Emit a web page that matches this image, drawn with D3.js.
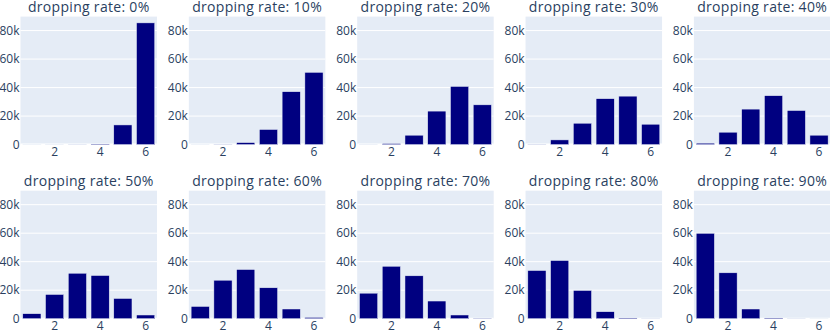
<!DOCTYPE html>
<html>
<head>
<meta charset="utf-8">
<script src="https://cdn.jsdelivr.net/npm/d3@7"></script>
<style>
  html, body { margin: 0; padding: 0; background: #fff; }
  svg { display: block; }
  text { font-family: "Open Sans", verdana, arial, sans-serif; fill: #2a3f5f; }
</style>
</head>
<body>
<svg id="chart" width="830" height="332"></svg>
<script>
// ---- data ----
const categories = [1, 2, 3, 4, 5, 6];
const rates = ["0%", "10%", "20%", "30%", "40%", "50%", "60%", "70%", "80%", "90%"];
const rate0  = [10, 20, 60, 400, 13800, 85400];
const rate10 = [10, 100, 1400, 10600, 37100, 50700];
const rate20 = [20, 700, 6600, 23500, 40800, 27900];
const rate30 = [100, 3300, 15000, 32200, 34000, 14300];
const rate40 = [1000, 8700, 24900, 34300, 23900, 6600];
const rate50 = [3500, 17000, 31900, 30300, 14200, 2600];
const rate60 = [8600, 27000, 34500, 21700, 6800, 900];
const rate70 = [17900, 36800, 30100, 12400, 2600, 200];
const rate80 = [33800, 40800, 19800, 4900, 500, 50];
const rate90 = [59900, 32200, 6800, 500, 50, 10];
const seriesValues = [rate0, rate10, rate20, rate30, rate40, rate50, rate60, rate70, rate80, rate90];
const yTicks = [0, 20000, 40000, 60000, 80000];
const xTicks = [2, 4, 6];
const yMax = 89800;

// ---- layout ----
const svg = d3.select("#chart");
const plotW = 136.5, plotH = 128;
const colX = i => 20.5 + i * 168.35;
const rowY = [16.6, 190.7];

const x = d3.scaleLinear().domain([0.5, 6.5]).range([0, plotW]);
const y = d3.scaleLinear().domain([0, yMax]).range([plotH, 0]);

seriesValues.forEach((vals, k) => {
  const col = k % 5, row = Math.floor(k / 5);
  const g = svg.append("g").attr("transform", `translate(${colX(col)},${rowY[row]})`);

  g.append("rect").attr("width", plotW).attr("height", plotH).attr("fill", "#E5ECF6");

  // gridlines
  g.selectAll("line.grid").data(yTicks.filter(t => t > 0)).enter().append("line")
    .attr("x1", 0).attr("x2", plotW)
    .attr("y1", d => y(d)).attr("y2", d => y(d))
    .attr("stroke", "#fff").attr("stroke-width", 1);
  // zero line
  g.append("line").attr("x1", 0).attr("x2", plotW).attr("y1", y(0)).attr("y2", y(0))
    .attr("stroke", "#fff").attr("stroke-width", 2);

  // bars
  const bw = x(1.4) - x(0.6);
  g.selectAll("rect.bar").data(categories.map((c, i) => ({c, v: vals[i]}))).enter().append("rect")
    .attr("x", d => x(d.c) - bw / 2)
    .attr("y", d => y(d.v))
    .attr("width", bw)
    .attr("height", d => y(0) - y(d.v))
    .attr("fill", "#000080")
    .attr("stroke", "#E5ECF6").attr("stroke-width", 0.5);

  // y axis labels
  g.selectAll("text.yt").data(yTicks).enter().append("text")
    .attr("x", -1).attr("y", d => y(d)).attr("dy", "0.36em")
    .attr("text-anchor", "end").attr("font-size", 12)
    .text(d => d === 0 ? "0" : (d / 1000) + "k");

  // x axis labels
  g.selectAll("text.xt").data(xTicks).enter().append("text")
    .attr("x", d => x(d)).attr("y", plotH + 11.5)
    .attr("text-anchor", "middle").attr("font-size", 12)
    .text(d => d);

  // title
  g.append("text").attr("x", plotW / 2).attr("y", -5)
    .attr("text-anchor", "middle").attr("font-size", 14).attr("letter-spacing", 0.3)
    .text("dropping rate: " + rates[k]);
});
</script>
</body>
</html>
